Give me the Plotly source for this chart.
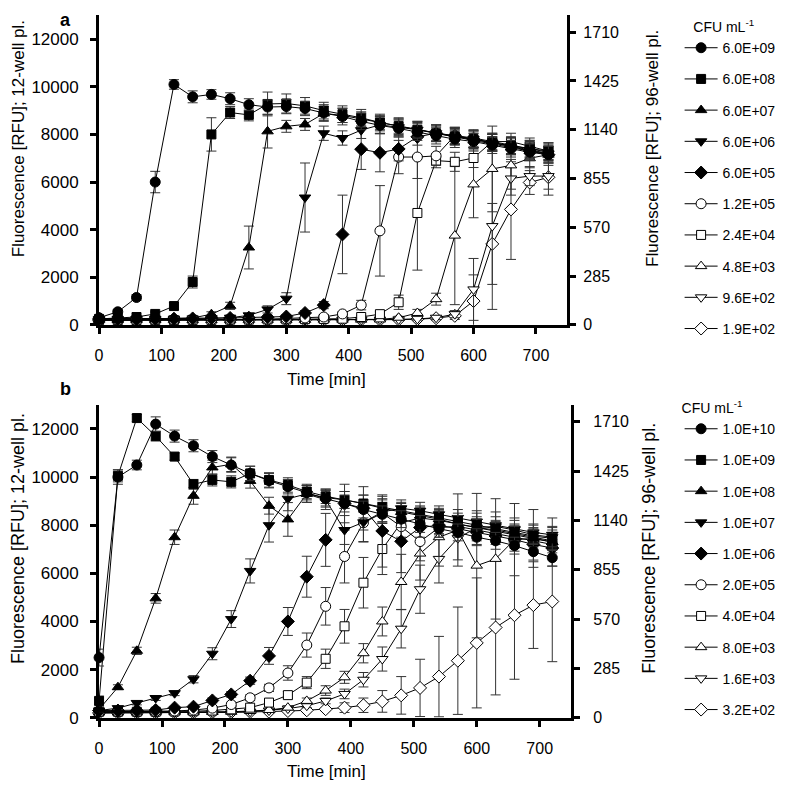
import plotly.graph_objects as go

T = [0, 30, 60, 90, 120, 150, 180, 210, 240, 270, 300, 330, 360, 390, 420, 450, 480, 510, 540, 570, 600, 630, 660, 690, 720]

# ---- panel a (12-well) ----
A_NAMES = ["6.0E+09", "6.0E+08", "6.0E+07", "6.0E+06", "6.0E+05", "1.2E+05", "2.4E+04", "4.8E+03", "9.6E+02", "1.9E+02"]
A1 = [300, 550, 1150, 6000, 10100, 9580, 9680, 9500, 9250, 9150, 9170, 9090, 8900, 8750, 8550, 8380, 8250, 8100, 7950, 7800, 7700, 7550, 7400, 7250, 7150]
A1e = [60, 80, 120, 450, 200, 250, 200, 250, 250, 300, 300, 300, 350, 350, 350, 350, 350, 350, 350, 350, 350, 350, 350, 350, 350]
A2 = [250, 280, 330, 460, 790, 1800, 8000, 8920, 8820, 9280, 9300, 9200, 9000, 8850, 8700, 8500, 8350, 8200, 8050, 7920, 7800, 7650, 7520, 7400, 7300]
A2e = [50, 50, 60, 80, 150, 250, 700, 250, 250, 500, 400, 350, 350, 350, 350, 350, 350, 350, 350, 350, 350, 350, 350, 350, 350]
A3 = [250, 250, 250, 260, 270, 290, 450, 800, 3250, 8130, 8340, 8420, 8880, 8800, 8650, 8500, 8350, 8200, 8050, 7900, 7750, 7600, 7450, 7300, 7200]
A3e = [40, 40, 40, 40, 50, 50, 100, 150, 900, 700, 250, 250, 300, 300, 300, 300, 300, 300, 300, 300, 300, 300, 300, 300, 300]
A4 = [250, 250, 250, 250, 260, 270, 280, 300, 400, 650, 1100, 5350, 8050, 7850, 8180, 8400, 8300, 8200, 8050, 7900, 7800, 7650, 7500, 7350, 7200]
A4e = [40, 40, 40, 40, 40, 50, 50, 50, 80, 150, 250, 1450, 300, 300, 350, 350, 350, 350, 350, 350, 350, 350, 350, 350, 350]
A5 = [250, 250, 250, 250, 260, 270, 280, 290, 300, 320, 350, 500, 830, 3800, 7380, 7230, 7390, 7900, 8050, 7950, 7800, 7650, 7500, 7300, 7150]
A5e = [40, 40, 40, 40, 40, 40, 40, 40, 50, 50, 60, 100, 150, 1650, 850, 800, 500, 350, 350, 350, 350, 350, 350, 350, 350]
A6 = [200, 200, 200, 200, 210, 210, 220, 220, 230, 240, 260, 290, 330, 460, 830, 3950, 7050, 7050, 7100, 7950, 7850, 7700, 7550, 7400, 7250]
A6e = [30, 30, 30, 30, 30, 30, 30, 30, 40, 40, 40, 50, 60, 80, 200, 1900, 700, 900, 400, 350, 350, 350, 350, 350, 350]
A7 = [200, 200, 200, 200, 200, 210, 210, 220, 220, 230, 230, 240, 250, 260, 330, 450, 950, 4700, 6900, 6850, 7010, 7700, 7700, 7500, 7300]
A7e = [30, 30, 30, 30, 30, 30, 30, 30, 30, 30, 40, 40, 40, 50, 60, 100, 300, 2400, 300, 400, 400, 350, 350, 350, 350]
A8 = [200, 200, 200, 200, 200, 200, 200, 200, 210, 210, 210, 210, 220, 220, 220, 230, 300, 500, 1080, 3750, 5900, 6550, 6700, 7000, 7150]
A8e = [30, 30, 30, 30, 30, 30, 30, 30, 30, 30, 30, 30, 30, 30, 30, 40, 60, 150, 250, 2900, 1400, 1800, 1000, 400, 350]
A9 = [200, 200, 200, 200, 200, 200, 200, 200, 200, 200, 200, 200, 210, 210, 210, 220, 230, 250, 300, 450, 1490, 4150, 6150, 6250, 6250]
A9e = [30, 30, 30, 30, 30, 30, 30, 30, 30, 30, 30, 30, 30, 30, 30, 30, 40, 50, 80, 150, 1300, 3500, 700, 400, 800]
A10 = [200, 200, 200, 200, 200, 200, 200, 200, 200, 200, 200, 200, 200, 200, 210, 210, 220, 240, 280, 380, 1000, 3400, 4850, 5980, 6200]
A10e = [30, 30, 30, 30, 30, 30, 30, 30, 30, 30, 30, 30, 30, 30, 30, 30, 40, 50, 70, 150, 1100, 1700, 2100, 500, 500]

# ---- panel b (96-well) ----
B_NAMES = ["1.0E+10", "1.0E+09", "1.0E+08", "1.0E+07", "1.0E+06", "2.0E+05", "4.0E+04", "8.0E+03", "1.6E+03", "3.2E+02"]
B1 = [2500, 10000, 10500, 12200, 11700, 11300, 10850, 10500, 10150, 9850, 9600, 9350, 9100, 8900, 8650, 8450, 8250, 8050, 7850, 7700, 7500, 7350, 7150, 6900, 6650]
B1e = [350, 300, 200, 300, 250, 250, 250, 300, 300, 300, 300, 300, 350, 350, 350, 350, 350, 350, 350, 350, 350, 350, 350, 350, 350]
B2 = [700, 10050, 12450, 11700, 10850, 9700, 9880, 9800, 10150, 9880, 9670, 9400, 9200, 9050, 8900, 8750, 8600, 8450, 8300, 8150, 8000, 7850, 7700, 7550, 7450]
B2e = [200, 250, 150, 200, 150, 200, 250, 250, 300, 300, 300, 300, 300, 350, 350, 350, 350, 350, 350, 350, 350, 350, 350, 350, 350]
B3 = [350, 1270, 2780, 4960, 7500, 9220, 10400, 10530, 9840, 8810, 8240, 9300, 9150, 9050, 8900, 8700, 8550, 8400, 8250, 8050, 7900, 7750, 7600, 7450, 7300]
B3e = [100, 100, 150, 200, 300, 350, 300, 300, 300, 350, 700, 350, 350, 350, 350, 350, 350, 350, 350, 350, 350, 350, 350, 350, 350]
B4 = [300, 400, 615, 820, 1020, 1600, 2660, 4100, 6100, 8000, 9100, 9300, 9050, 7800, 8120, 8550, 8700, 8600, 8450, 8300, 8150, 8000, 7850, 7700, 7600]
B4e = [50, 60, 80, 100, 100, 150, 250, 350, 500, 700, 500, 350, 400, 600, 800, 400, 350, 350, 350, 350, 350, 350, 350, 350, 350]
B5 = [300, 300, 300, 320, 420, 460, 720, 970, 1540, 2570, 4000, 5860, 7390, 8900, 8700, 7760, 7330, 7900, 8000, 7850, 7700, 7550, 7400, 7200, 7050]
B5e = [40, 40, 40, 50, 50, 60, 100, 120, 150, 350, 580, 850, 1100, 800, 900, 1500, 1300, 400, 350, 350, 350, 350, 350, 350, 350]
B6 = [250, 250, 250, 260, 280, 320, 400, 550, 830, 1240, 1860, 3020, 4630, 6700, 8100, 8500, 7940, 7320, 7900, 7950, 7800, 7650, 7500, 7350, 7200]
B6e = [30, 30, 30, 40, 40, 50, 60, 80, 120, 150, 300, 500, 780, 1100, 800, 700, 600, 800, 400, 350, 350, 350, 350, 350, 350]
B7 = [250, 250, 250, 250, 260, 270, 300, 350, 420, 630, 940, 1460, 2450, 3800, 5610, 7010, 8100, 8300, 8200, 8050, 7900, 7800, 7650, 7500, 7350]
B7e = [30, 30, 30, 30, 30, 40, 40, 50, 60, 80, 150, 250, 400, 700, 1050, 1060, 600, 400, 350, 350, 350, 350, 350, 350, 350]
B8 = [220, 220, 220, 220, 230, 230, 240, 250, 280, 320, 420, 700, 1130, 1680, 2680, 4000, 5640, 6820, 7500, 7800, 6320, 6600, 7400, 7450, 7300]
B8e = [30, 30, 30, 30, 30, 30, 30, 40, 40, 50, 80, 120, 200, 250, 400, 600, 1150, 1100, 1200, 1500, 3000, 2500, 1500, 1200, 1000]
B9 = [200, 200, 200, 200, 210, 210, 220, 230, 250, 300, 380, 500, 700, 990, 1580, 2440, 3700, 5340, 6600, 7460, 7900, 7950, 7800, 7600, 7500]
B9e = [30, 30, 30, 30, 30, 30, 30, 30, 40, 40, 60, 80, 120, 200, 300, 500, 800, 1000, 1000, 900, 700, 600, 500, 400, 400]
B10 = [200, 200, 200, 200, 210, 210, 220, 230, 240, 250, 280, 310, 356, 420, 520, 680, 930, 1240, 1710, 2370, 3110, 3750, 4260, 4680, 4830]
B10e = [20, 20, 20, 20, 20, 20, 20, 20, 20, 30, 30, 40, 60, 200, 300, 450, 780, 1190, 1670, 2230, 2700, 2800, 2660, 1800, 2500]

LEFT_TICKS = [0, 2000, 4000, 6000, 8000, 10000, 12000]
RIGHT_TICKS = [0, 285, 570, 855, 1140, 1425, 1710]
X_TICKS = [0, 100, 200, 300, 400, 500, 600, 700]

A_SERIES = [(A1, A1e), (A2, A2e), (A3, A3e), (A4, A4e), (A5, A5e), (A6, A6e), (A7, A7e), (A8, A8e), (A9, A9e), (A10, A10e)]
B_SERIES = [(B1, B1e), (B2, B2e), (B3, B3e), (B4, B4e), (B5, B5e), (B6, B6e), (B7, B7e), (B8, B8e), (B9, B9e), (B10, B10e)]

SYMBOLS = ["circle", "square", "triangle-up", "triangle-down", "diamond",
           "circle", "square", "triangle-up", "triangle-down", "diamond"]
FILLS = ["black"] * 5 + ["white"] * 5
SIZES = [10, 9, 10, 10, 10, 10, 9, 10, 10, 10]

FONT = "Liberation Sans, Arial, sans-serif"
# the page body keeps its default 8px margin, so the figure starts at (8, 8)
OFF = 8
FW, FH = 789, 778

fig = go.Figure()


def add_panel(series, names, xa, ya, legend):
    for i in reversed(range(len(series))):
        vals, errs = series[i]
        fig.add_trace(go.Scatter(
            x=T, y=vals, name=names[i], mode="lines+markers",
            xaxis=xa, yaxis=ya, legend=legend, legendrank=i + 1,
            legendgroup=legend + str(i),
            line=dict(color="black", width=1),
            marker=dict(symbol=SYMBOLS[i], size=SIZES[i], color=FILLS[i],
                        line=dict(color="black", width=1)),
            error_y=dict(type="data", array=errs, visible=True,
                         color="#333333", thickness=1, width=5),
            cliponaxis=False,
        ))


add_panel(A_SERIES, A_NAMES, "x", "y", "legend")
add_panel(B_SERIES, B_NAMES, "x2", "y3", "legend2")

# invisible traces so that the right-hand axes are drawn
fig.add_trace(go.Scatter(x=[None], y=[None], xaxis="x", yaxis="y2", showlegend=False, hoverinfo="skip"))
fig.add_trace(go.Scatter(x=[None], y=[None], xaxis="x2", yaxis="y4", showlegend=False, hoverinfo="skip"))


def px_x(p):
    return (p - OFF) / FW


def px_y(p):
    return 1 - (p - OFF) / FH


axis_common = dict(showgrid=False, zeroline=False, showline=True, linewidth=3,
                   linecolor="black", ticks="outside", ticklen=6, tickwidth=2.5,
                   tickcolor="black", mirror=False, tickformat="d")

fig.update_layout(
    width=FW, height=FH, margin=dict(l=0, r=0, t=0, b=0),
    paper_bgcolor="white", plot_bgcolor="white",
    font=dict(family=FONT, color="black"),
    showlegend=True,
    xaxis=dict(domain=[px_x(95.5), px_x(566)], anchor="y", range=[0, 750],
               tickvals=X_TICKS, tickfont=dict(size=16), ticklabelstandoff=8, **axis_common),
    yaxis=dict(domain=[px_y(329), px_y(15.5)], anchor="x", range=[0, 13000],
               tickvals=LEFT_TICKS, tickfont=dict(size=17), ticklabelstandoff=8, **axis_common),
    yaxis2=dict(overlaying="y", side="right", anchor="x", range=[0, 1808],
                tickvals=RIGHT_TICKS, tickfont=dict(size=16), ticklabelstandoff=4, **axis_common),
    xaxis2=dict(domain=[px_x(95.5), px_x(570)], anchor="y3", range=[0, 750],
                tickvals=X_TICKS, tickfont=dict(size=16), ticklabelstandoff=8, **axis_common),
    yaxis3=dict(domain=[px_y(727), px_y(410)], anchor="x2", range=[0, 13000],
                tickvals=LEFT_TICKS, tickfont=dict(size=17), ticklabelstandoff=8, **axis_common),
    yaxis4=dict(overlaying="y3", side="right", anchor="x2", range=[0, 1808],
                tickvals=RIGHT_TICKS, tickfont=dict(size=16), ticklabelstandoff=10, **axis_common),
    legend=dict(x=px_x(679), y=px_y(14), xanchor="left", yanchor="top",
                title=dict(text="&nbsp;&nbsp;&nbsp;CFU mL<sup>-1</sup>", font=dict(size=14)),
                font=dict(size=14), tracegroupgap=10, itemwidth=33,
                bgcolor="rgba(0,0,0,0)", traceorder="grouped"),
    legend2=dict(x=px_x(679), y=px_y(400), xanchor="left", yanchor="top",
                 title=dict(text="CFU mL<sup>-1</sup>", font=dict(size=14)),
                 font=dict(size=14), tracegroupgap=10, itemwidth=33,
                 bgcolor="rgba(0,0,0,0)", traceorder="grouped"),
)

ann = [
    dict(text="<b>a</b>", x=px_x(62), y=1.0, yanchor="top", font=dict(size=18)),
    dict(text="<b>b</b>", x=px_x(62), y=px_y(394), yanchor="middle", font=dict(size=18)),
    dict(text="Time [min]", x=px_x(324), y=px_y(384), yanchor="middle", font=dict(size=17)),
    dict(text="Time [min]", x=px_x(324), y=px_y(781), yanchor="middle", font=dict(size=17)),
    dict(text="Fluorescence [RFU]; 12-well pl.", x=px_x(14), y=px_y(140), yanchor="middle", textangle=-90, font=dict(size=17)),
    dict(text="Fluorescence [RFU]; 96-well pl.", x=px_x(651), y=px_y(150), yanchor="middle", textangle=-90, font=dict(size=17)),
    dict(text="Fluorescence [RFU]; 12-well pl.", x=px_x(14), y=px_y(545), yanchor="middle", textangle=-90, font=dict(size=18)),
    dict(text="Fluorescence [RFU]; 96-well pl.", x=px_x(648), y=px_y(555), yanchor="middle", textangle=-90, font=dict(size=18)),
]
for a in ann:
    a.update(xref="paper", yref="paper", showarrow=False, xanchor="center")
fig.update_layout(annotations=ann)

fig.write_html("out.html")
